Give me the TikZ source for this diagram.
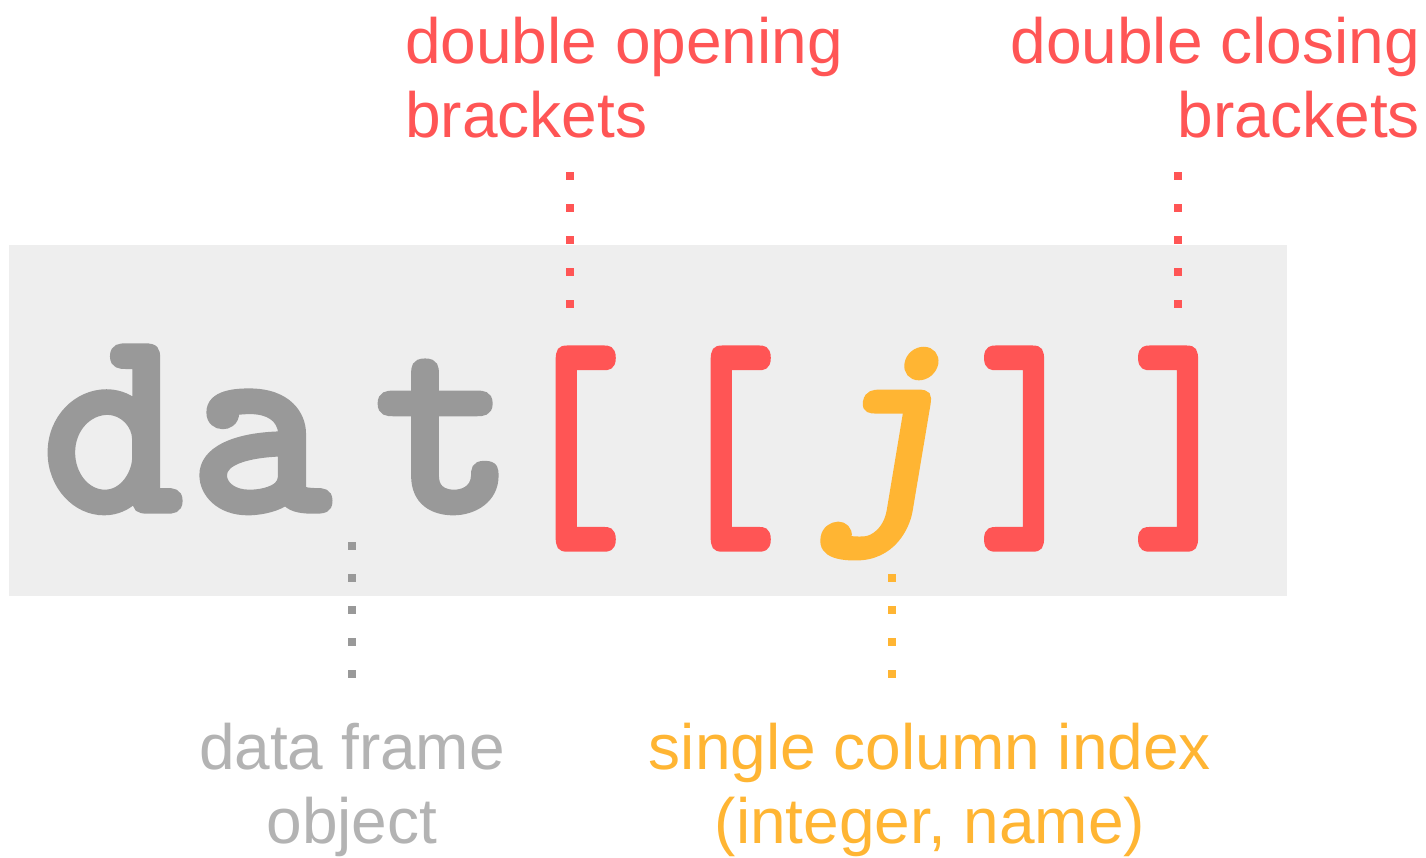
\documentclass[tikz,border=0pt]{standalone}
\usepackage{fontspec}
\usepackage{graphicx}
\setmainfont{Liberation Sans}
\newfontfamily\codefont{lmmonolt10-bold.otf}[FakeBold=2]
\newfontfamily\codefontit{lmmonolt10-boldoblique.otf}[FakeBold=2]
\definecolor{bgray}{HTML}{EEEEEE}
\definecolor{cgray}{HTML}{999999}
\definecolor{lgray}{HTML}{B3B3B3}
\definecolor{cred}{HTML}{FF5555}
\definecolor{corange}{HTML}{FFB533}
\newcommand{\narrowglyph}[1]{\scalebox{0.8}[1]{#1}}
\tikzset{
  glyph/.style={inner sep=0pt, anchor=base, font=\codefont\fontsize{270}{270}\selectfont},
  brk/.style={inner sep=0pt, anchor=base, text=cred, font=\codefont\fontsize{260}{260}\selectfont},
  lbl/.style={inner sep=0pt, font=\fontsize{64}{74}\selectfont},
  dots/.style={line width=8pt, dash pattern=on 8pt off 24pt}
}
\begin{document}
\begin{tikzpicture}[x=1pt,y=-1pt]
\useasboundingbox (0,0) rectangle (1426,857);
\fill[bgray] (9,245) rectangle (1287,596);
% code glyphs
\node[glyph, text=cgray] (d) at (112,511) {d};
\node[glyph, text=cgray] (a) at (260,511) {a};
\node[glyph, text=cgray] (t) at (445,511) {t};
\node[brk] (ob1) at (567,528) {\narrowglyph{[}};
\node[brk] (ob2) at (722,528) {\narrowglyph{[}};
\node[glyph, text=corange, font=\codefontit\fontsize{252}{252}\selectfont] (j) at (884,502) {j};
\node[brk] (cb1) at (1033,528) {\narrowglyph{]}};
\node[brk] (cb2) at (1187,528) {\narrowglyph{]}};
% labels
\node[lbl, text=cred, anchor=base west, align=left] (lopen) at (405,137) {double opening\\brackets};
\node[lbl, text=cred, anchor=base east, align=right] (lclose) at (1420,137) {double closing\\brackets};
\node[lbl, text=lgray, anchor=base, align=center] (ldf) at (352,843) {data frame\\object};
\node[lbl, text=corange, anchor=base, align=center] (lidx) at (930,843) {single column index\\(integer, name)};
% dotted leaders
\coordinate (o1) at (570,172); \coordinate (o2) at (570,309);
\coordinate (c1) at (1178,172); \coordinate (c2) at (1178,309);
\coordinate (g1) at (352,542); \coordinate (g2) at (352,679);
\coordinate (j1) at (892,574); \coordinate (j2) at (892,679);
\draw[dots, cred] (o1) -- (o2);
\draw[dots, cred] (c1) -- (c2);
\draw[dots, cgray] (g1) -- (g2);
\draw[dots, corange] (j1) -- (j2);
\end{tikzpicture}
\end{document}
